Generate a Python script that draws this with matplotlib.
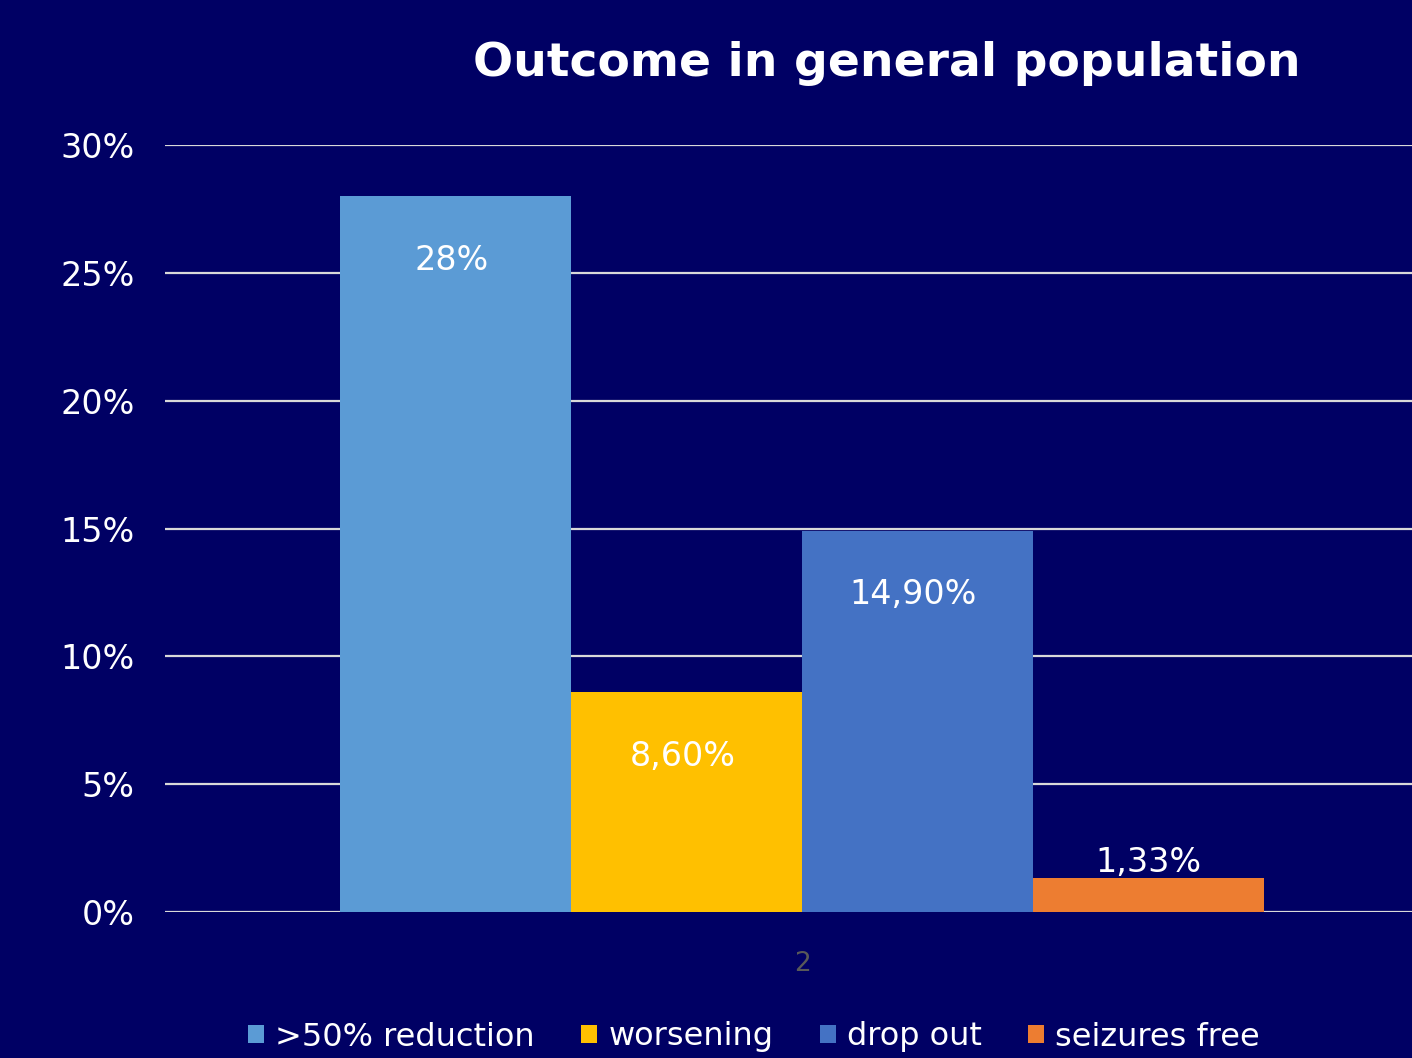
import matplotlib
matplotlib.use("Agg")
import matplotlib.pyplot as plt
from matplotlib.patches import Patch
from matplotlib.ticker import FuncFormatter

# Data
series = [">50% reduction", "worsening", "drop out", "seizures free"]
values = [0.28, 0.086, 0.149, 0.0133]
value_labels = ["28%", "8,60%", "14,90%", "1,33%"]
colors = ["#5B9BD5", "#FFC000", "#4472C4", "#ED7D31"]
category = "2"
yticks = [0, 0.05, 0.10, 0.15, 0.20, 0.25, 0.30]

bg = "#000064"
W, H = 1412, 1058
fig = plt.figure(figsize=(W / 100, H / 100), dpi=100, facecolor=bg)
ax = fig.add_axes([165 / W, 1 - 912 / H, (1412 - 165) / W, (912 - 145) / H])
ax.set_facecolor(bg)

width = 1.0
n = len(values)
positions = [(i - (n - 1) / 2) * width for i in range(n)]
bars = ax.bar(positions, values, width=width, color=colors, zorder=3)

ax.set_ylim(0, 0.30)
ax.set_xlim(-2.758, 2.640)
ax.set_yticks(yticks)
ax.yaxis.set_major_formatter(FuncFormatter(lambda v, _: f"{v * 100:.0f}%"))
ax.grid(axis="y", color="#d9d9d9", linewidth=1.6, zorder=1)
ax.tick_params(axis="y", length=0, pad=22, labelsize=24, labelcolor="white")
ax.set_xticks([0])
ax.set_xticklabels([category])
ax.tick_params(axis="x", length=0, pad=28, labelsize=19, labelcolor="#595959")
for s in ax.spines.values():
    s.set_visible(False)

# Value labels: inside the top of tall bars, above the short one
for b, v, lab in zip(bars, values, value_labels):
    cx = b.get_x() + b.get_width() / 2
    if v > 0.05:
        ax.annotate(lab, (cx, v), xytext=(-3, -46), textcoords="offset points",
                    ha="center", va="center", color="white", fontsize=24, zorder=4)
    else:
        ax.annotate(lab, (cx, v), xytext=(0, 11), textcoords="offset points",
                    ha="center", va="center", color="white", fontsize=24, zorder=4)

fig.text(887 / W, 1 - 63 / H, "Outcome in general population", ha="center", va="center",
         color="white", fontsize=34, fontweight="bold")

handles = [Patch(facecolor=c, edgecolor="none") for c in colors]
leg = fig.legend(handles, series, loc="center", bbox_to_anchor=(754 / W, 1 - 1037 / H),
                 ncol=4, frameon=False, fontsize=23, labelcolor="white",
                 handlelength=0.5, handleheight=0.5, handletextpad=0.35,
                 columnspacing=1.45, borderpad=0)

fig.savefig("out.png", dpi=100, facecolor=bg)
